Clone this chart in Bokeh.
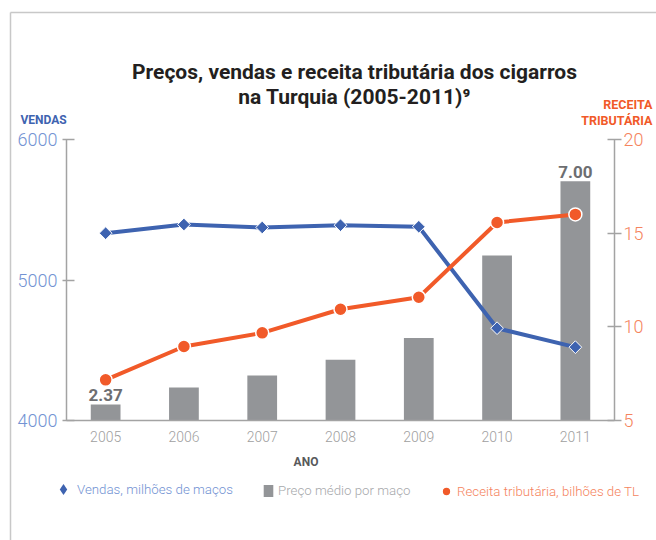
import math
from bokeh.plotting import figure
from bokeh.models import (Range1d, LinearAxis, FixedTicker, Label,
                          Legend, LegendItem, Arrow)
from bokeh.core.properties import value
from bokeh.embed import file_html
from bokeh.resources import INLINE

# ---------------- data ----------------
anos = ["2005", "2006", "2007", "2008", "2009", "2010", "2011"]
vendas = [5333, 5395, 5374, 5390, 5379, 4657, 4522]          # milhões de maços
preco = [2.37, 2.72, 2.97, 3.30, 3.75, 5.46, 7.00]           # preço médio por maço
receita = [7.17, 8.95, 9.68, 10.94, 11.58, 15.57, 16.00]     # bilhões de TL
vendas_ticks = [4000, 5000, 6000]
receita_ticks = [5, 10, 15, 20]
anos_rotulados = ["2005", "2011"]

titulo_1 = "Preços, vendas e receita tributária dos cigarros"
titulo_2 = "na Turquia (2005-2011)⁹"
eixo_esq = "VENDAS"
eixo_dir_1 = "RECEITA"
eixo_dir_2 = "TRIBUTÁRIA"
eixo_x = "ANO"
leg_vendas = "Vendas, milhões de maços"
leg_preco = "Preço médio por maço"
leg_receita = "Receita tributária, bilhões de TL"

xs = list(range(len(anos)))

# ---------------- style ----------------
AZUL = "#3e63b0"
AZUL_CLARO = "#7393d3"
LARANJA = "#f15a29"
LARANJA_CLARO = "#f5845e"
CINZA_BARRA = "#939598"
CINZA_EIXO = "#a3a3a3"
CINZA_TXT = "#a0a0a0"
LIGHT = "Roboto Light"

VENDAS_AX = (4000, 6000)
RECEITA_AX = (5, 20)
PRECO_AX = (2.038, 7.865)

# geometry of the plotting box (pixels in the picture)
W, H = 656, 540
FL, FR, FT, FB = 66, 614, 139, 420
DX = (FR - FL) / len(anos)


def ext_range(lo, hi):
    per = (hi - lo) / (FB - FT)
    return Range1d(lo - (H - FB) * per, hi + FT * per)


def px2x(px):
    return (px - FL) / DX - 0.5


def py2y(py):
    return VENDAS_AX[0] + (FB - py) / (FB - FT) * (VENDAS_AX[1] - VENDAS_AX[0])


p = figure(width=W, height=H, x_range=Range1d(px2x(0), px2x(W)),
           y_range=ext_range(*VENDAS_AX), output_backend="svg",
           toolbar_location=None, min_border=0,
           min_border_left=0, min_border_right=0,
           min_border_top=0, min_border_bottom=0,
           x_axis_type=None, y_axis_type=None)
p.extra_y_ranges = {"receita": ext_range(*RECEITA_AX),
                    "preco": ext_range(*PRECO_AX)}
p.xgrid.visible = False
p.ygrid.visible = False
p.outline_line_color = None
p.background_fill_color = "white"
p.border_fill_color = "white"


def style_axis(ax, tin, tout, size, color, standoff):
    ax.minor_tick_line_color = None
    ax.major_tick_in = tin
    ax.major_tick_out = tout
    ax.axis_line_color = CINZA_EIXO
    ax.major_tick_line_color = CINZA_EIXO if (tin or tout) else None
    ax.axis_line_width = 1.5
    ax.major_tick_line_width = 1.5
    ax.major_label_text_font = LIGHT
    ax.major_label_text_font_size = size
    ax.major_label_text_color = color
    ax.major_label_standoff = standoff


# left axis (vendas)
ya = LinearAxis(ticker=FixedTicker(ticks=vendas_ticks), bounds=VENDAS_AX,
                fixed_location=px2x(FL))
style_axis(ya, 8, 4, "18px", AZUL_CLARO, 5)
p.add_layout(ya, "left")

# right axis (receita)
yr = LinearAxis(y_range_name="receita", ticker=FixedTicker(ticks=receita_ticks),
                bounds=RECEITA_AX, fixed_location=px2x(FR))
style_axis(yr, 7, 7, "18px", LARANJA_CLARO, 2)
p.add_layout(yr, "right")

# bottom axis (anos)
xa = LinearAxis(ticker=FixedTicker(ticks=xs), bounds=(-0.5, len(anos) - 0.5),
                fixed_location=VENDAS_AX[0],
                major_label_overrides={i: a for i, a in zip(xs, anos)})
style_axis(xa, 0, 0, "14px", CINZA_TXT, 10)
p.add_layout(xa, "below")

# bars
bars = p.vbar(x=xs, top=preco, bottom=PRECO_AX[0], width=0.38,
              y_range_name="preco", fill_color=CINZA_BARRA, line_color=None)

rot_x = [anos.index(a) for a in anos_rotulados]
rot_y = [preco[i] for i in rot_x]
rot_t = [f"{v:.2f}" for v in rot_y]
p.text(x=rot_x, y=rot_y, text=rot_t, y_range_name="preco",
       text_align="center", text_baseline="alphabetic", y_offset=-9,
       text_font=value("Roboto"), text_font_style="bold", text_font_size="17px",
       text_color="#6d6e71")

# lines
p.line(xs, vendas, line_width=4, line_color=AZUL)
sc_v = p.scatter(xs, vendas, marker="square", angle=math.pi / 4, size=9,
                 fill_color=AZUL, line_color="white", line_width=1)
p.line(xs, receita, y_range_name="receita", line_width=4, line_color=LARANJA)
sc_r = p.scatter(xs, receita, y_range_name="receita", marker="circle", size=13,
                 fill_color=LARANJA, line_color="white", line_width=1.5)

# legend-only glyph (hidden in the chart): diamond as in the reference key
leg_v_glyph = p.scatter(xs, vendas, marker="diamond", size=13,
                        fill_color=AZUL, line_color=None, visible=False)


# labels (titles, axis titles)
def lab(text, px, py, size, color, align="left", font="Roboto", style="bold"):
    p.add_layout(Label(x=px2x(px), y=py2y(py), text=text, text_align=align,
                       text_baseline="alphabetic", text_font=font,
                       text_font_style=style, text_font_size=size,
                       text_color=color))


lab(titulo_1, 354, 71, "21px", "#231f20", "center")
lab(titulo_2, 354, 96, "21px", "#231f20", "center")
lab(eixo_esq, 20, 119, "12px", AZUL)
lab(eixo_dir_1, 652, 104, "12.5px", LARANJA, "right")
lab(eixo_dir_2, 652, 120, "12.5px", LARANJA, "right")
lab(eixo_x, 305.5, 461, "12px", "#58595b", "center")

# frame lines around the chart
for (x0, y0, x1, y1) in [(10, 12, 660, 12), (10, 12, 10, 545)]:
    p.add_layout(Arrow(end=None, x_start=px2x(x0), y_start=py2y(y0),
                       x_end=px2x(x1), y_end=py2y(y1),
                       line_color="#c8c8c8", line_width=1.5))


# legends
def legend(label, rend, left, bottom, gw, gh, standoff, color):
    lg = Legend(items=[LegendItem(label=label, renderers=[rend])],
                location=(left, H - bottom), glyph_width=gw, glyph_height=gh,
                label_standoff=standoff, padding=0, margin=0, spacing=0,
                border_line_color=None, background_fill_alpha=0,
                inactive_fill_alpha=0,
                label_text_font=LIGHT, label_text_font_size="13.3px",
                label_text_color=color, label_height=gh)
    p.add_layout(lg)


legend(leg_vendas, leg_v_glyph, 49, 503, 28, 28, 0, AZUL_CLARO)
legend(leg_preco, bars, 262, 498, 12, 15, 4, "#a7a9ac")
legend(leg_receita, sc_r, 435, 502, 22, 22, 0, LARANJA_CLARO)

open("out.html", "w").write(file_html(p, INLINE))
